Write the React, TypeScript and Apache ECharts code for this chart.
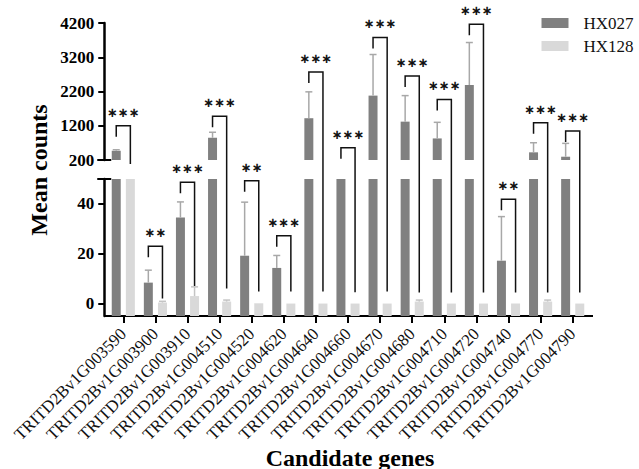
import React, { useEffect, useRef } from "react";
import * as echarts from "echarts";

const genes = [
  "TRITD2Bv1G003590", "TRITD2Bv1G003900", "TRITD2Bv1G003910", "TRITD2Bv1G004510",
  "TRITD2Bv1G004520", "TRITD2Bv1G004620", "TRITD2Bv1G004640", "TRITD2Bv1G004660",
  "TRITD2Bv1G004670", "TRITD2Bv1G004680", "TRITD2Bv1G004710", "TRITD2Bv1G004720",
  "TRITD2Bv1G004740", "TRITD2Bv1G004770", "TRITD2Bv1G004790",
];
const hx027Mean = [470, 8.4, 34.5, 850, 19.2, 14.3, 1420, 130, 2080, 1320, 830, 2390, 17.2, 424, 296];
const hx027Err = [30, 5, 6.3, 160, 21.5, 5, 770, 0, 1200, 760, 470, 1240, 17.7, 280, 390];
const hx128Mean = [130, 0.4, 3, 0.8, 0.1, 0, 0, 0, 0, 0.8, 0, 0, 0, 0.8, 0];
const hx128Err = [0, 0.5, 3.7, 0.6, 0, 0, 0, 0, 0, 0.6, 0, 0, 0, 0.6, 0];
const sigLabels = ["***", "**", "***", "***", "**", "***", "***", "***", "***", "***", "***", "***", "**", "***", "***"];
const bracketTop = [1200, 23, 48.7, 1480, 49.3, 27.2, 2770, 560, 3780, 2650, 1970, 4165, 41.9, 1290, 1045];
const bracketEnd = [56, 2, 7, 6, 4.8, 4.8, 4.8, 4.5, 4.8, 4.4, 4.4, 4.4, 4.4, 4.4, 4.4];
const lowerTicks = [0, 20, 40];
const LOW_MIN = -5, LOW_MAX = 50, UP_MIN = 200, UP_MAX = 4200, UP_STEP = 1000;

const DARK = "#808080";
const LIGHT = "#d9d9d9";
const DARK_ERR = "#a8a8a8";
const LIGHT_ERR = "#c4c4c4";
const SERIF = "'Liberation Serif', 'Times New Roman', serif";

function makeRender(part: "low" | "up", side: number, color: string, errColor: string) {
  return (params: any, api: any) => {
    const i = api.value(0);
    const v = api.value(1);
    const e = api.value(2);
    const band = api.size([1, 0])[0];
    const cx = api.coord([i, part === "low" ? 0 : UP_MIN])[0] + side * band * 0.22;
    const bw = band * 0.28;
    const lo = part === "low" ? LOW_MIN : UP_MIN;
    const hi = part === "low" ? LOW_MAX : UP_MAX;
    if (v <= lo) return null;
    const top = api.coord([i, Math.min(v, hi)])[1];
    const base = api.coord([i, lo])[1];
    const children: any[] = [
      { type: "rect", shape: { x: cx - bw / 2, y: top, width: bw, height: base - top }, style: { fill: color } },
    ];
    if (e > 0 && v <= hi) {
      const et = api.coord([i, v + e])[1];
      children.push({ type: "line", shape: { x1: cx, y1: top, x2: cx, y2: et }, style: { stroke: errColor, lineWidth: 1.5 } });
      children.push({ type: "line", shape: { x1: cx - 3.5, y1: et, x2: cx + 3.5, y2: et }, style: { stroke: errColor, lineWidth: 1.5 } });
    }
    return { type: "group", children };
  };
}

export default function App() {
  const ref = useRef<HTMLDivElement>(null);
  useEffect(() => {
    if (!ref.current) return;
    const chart = echarts.init(ref.current, null, { renderer: "svg" });
    const d027 = genes.map((_, i) => [i, hx027Mean[i], hx027Err[i]]);
    const d128 = genes.map((_, i) => [i, hx128Mean[i], hx128Err[i]]);
    const yLabel = {
      fontFamily: SERIF, fontWeight: "bold" as const, fontSize: 17, color: "#000", margin: 10,
      formatter: (v: number) => String(v),
    };
    const yLine = { show: true, lineStyle: { color: "#000", width: 2.5 } };
    const yTick = { show: true, length: 6, lineStyle: { color: "#000", width: 2 } };
    chart.setOption({
      animation: false,
      legend: {
        data: [
          { name: "HX027", icon: "rect", itemStyle: { color: DARK } },
          { name: "HX128", icon: "rect", itemStyle: { color: LIGHT } },
        ],
        orient: "vertical",
        left: 541.5,
        top: 14.5,
        padding: 0,
        itemWidth: 27,
        itemHeight: 10,
        itemGap: 6,
        textStyle: { fontFamily: SERIF, fontSize: 17, color: "#111", padding: [0, 0, 0, 10] },
      },
      grid: [
        { left: 107.25, width: 481.5, top: 23, height: 137 },
        { left: 107.25, width: 481.5, top: 179, height: 137 },
      ],
      xAxis: [
        { type: "category", gridIndex: 0, data: genes, show: false },
        {
          type: "category",
          gridIndex: 1,
          data: genes,
          axisLine: { show: true, onZero: false, lineStyle: { color: "#000", width: 2 } },
          axisTick: { show: true, alignWithLabel: true, length: 7, lineStyle: { color: "#000", width: 2 } },
          axisLabel: { interval: 0, rotate: 45, fontFamily: SERIF, fontSize: 17, color: "#111", margin: 15 },
        },
      ],
      yAxis: [
        {
          type: "value", gridIndex: 0, min: UP_MIN, max: UP_MAX, interval: UP_STEP, offset: 3,
          axisLine: yLine, axisTick: yTick, axisLabel: yLabel, splitLine: { show: false },
        },
        {
          type: "value", gridIndex: 1, min: LOW_MIN, max: LOW_MAX, offset: 3,
          axisLine: yLine,
          axisTick: { ...yTick, customValues: lowerTicks },
          axisLabel: { ...yLabel, customValues: lowerTicks },
          splitLine: { show: false },
        },
      ],
      series: [
        { name: "HX027", type: "custom", xAxisIndex: 1, yAxisIndex: 1, data: d027, itemStyle: { color: DARK }, renderItem: makeRender("low", -1, DARK, DARK_ERR), clip: false },
        { name: "HX027", type: "custom", xAxisIndex: 0, yAxisIndex: 0, data: d027, itemStyle: { color: DARK }, renderItem: makeRender("up", -1, DARK, DARK_ERR), clip: false },
        { name: "HX128", type: "custom", xAxisIndex: 1, yAxisIndex: 1, data: d128, itemStyle: { color: LIGHT }, renderItem: makeRender("low", 1, LIGHT, LIGHT_ERR), clip: false },
        { name: "HX128", type: "custom", xAxisIndex: 0, yAxisIndex: 0, data: d128, itemStyle: { color: LIGHT }, renderItem: makeRender("up", 1, LIGHT, LIGHT_ERR), clip: false },
      ],
    });

    // annotations computed through the chart's scales
    const px = (g: number, x: number, y: number) => chart.convertToPixel({ gridIndex: g } as any, [x, y]) as number[];
    const band = px(1, 1, 0)[0] - px(1, 0, 0)[0];
    const axisX = px(1, 0, 0)[0] - band / 2 - 3;
    const graphics: any[] = [];
    genes.forEach((_, i) => {
      const v = bracketTop[i];
      const g = v > LOW_MAX ? 0 : 1;
      const p = px(g, i, v);
      const cx = p[0];
      const yTop = p[1];
      const lx = cx - band * 0.22;
      const rx = cx + band * 0.22;
      const yEnd = px(1, i, bracketEnd[i])[1];
      graphics.push({
        type: "polyline",
        shape: { points: [[lx, yTop + 11], [lx, yTop], [rx, yTop], [rx, yEnd]] },
        style: { stroke: "#111", lineWidth: 1.5, fill: null },
      });
      graphics.push({
        type: "text",
        x: cx,
        y: yTop - 13.5,
        style: {
          text: sigLabels[i].split("").map(() => "\u2217").join(""),
          fontFamily: "DejaVu Sans",
          fontWeight: "bold",
          fontSize: 13,
          fill: "#111",
          align: "center",
          verticalAlign: "middle",
        },
      });
    });
    const yBottom = px(1, 0, LOW_MIN)[1];
    const yUpBreak = px(0, 0, UP_MIN)[1];
    const yLowBreak = px(1, 0, LOW_MAX)[1];
    graphics.push({ type: "line", shape: { x1: axisX, y1: yBottom, x2: 593, y2: yBottom }, style: { stroke: "#000", lineWidth: 2 } });
    graphics.push({ type: "line", shape: { x1: axisX - 7, y1: yUpBreak, x2: axisX + 7, y2: yUpBreak }, style: { stroke: "#000", lineWidth: 2 } });
    graphics.push({ type: "line", shape: { x1: axisX - 7, y1: yLowBreak, x2: axisX + 7, y2: yLowBreak }, style: { stroke: "#000", lineWidth: 2 } });
    graphics.push({
      type: "text", x: 38.5, y: 170, rotation: Math.PI / 2,
      style: { text: "Mean counts", fontFamily: SERIF, fontWeight: "bold", fontSize: 24, fill: "#000", align: "center", verticalAlign: "middle" },
    });
    graphics.push({
      type: "text", x: 350, y: 457.5,
      style: { text: "Candidate genes", fontFamily: SERIF, fontWeight: "bold", fontSize: 24, fill: "#000", align: "center", verticalAlign: "middle" },
    });
    chart.setOption({ graphic: graphics });
    return () => chart.dispose();
  }, []);
  return <div ref={ref} style={{ position: "fixed", left: 0, top: 0, width: 639, height: 469, background: "#fff" }} />;
}
